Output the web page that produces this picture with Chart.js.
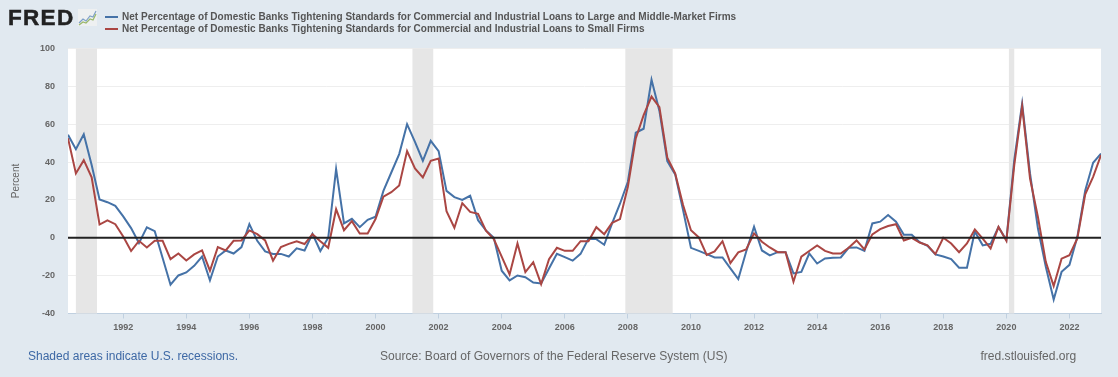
<!DOCTYPE html>
<html>
<head>
<meta charset="utf-8">
<title>FRED - Net Percentage of Domestic Banks Tightening Standards</title>
<script src="https://cdn.jsdelivr.net/npm/chart.js@4"></script>
<style>
    html, body { margin: 0; padding: 0; background: #e1e9f0; }
    body { position: relative; width: 1118px; height: 377px; overflow: hidden; font-family: "Liberation Sans", Arial, sans-serif; }
    #chart { position: absolute; left: 0; top: 0; }
    .abs { position: absolute; white-space: nowrap; }
    #logo { left: 8px; top: 3px; font-size: 22.5px; line-height: 30px; font-weight: bold; color: #222; letter-spacing: 1.3px; -webkit-text-stroke: 0.5px #222; }
    #icon { left: 78px; top: 9px; }
    .legend-line { left: 105px; width: 13px; height: 2px; }
    .legend-text { left: 122px; font-size: 10px; line-height: 13px; font-weight: bold; color: #555; letter-spacing: 0.03px; }
    .foot { top: 349px; font-size: 12.05px; line-height: 15px; color: #666; }
</style>
</head>
<body>
<canvas id="chart" width="1118" height="377"></canvas>
<div class="abs" id="logo">FRED</div>
<svg class="abs" id="icon" width="19" height="17" viewBox="0 0 19 17">
    <rect width="19" height="17" fill="#eef0f1"/>
    <polyline points="1,14 5,10 8,12 12,7 15,8 18,2" fill="none" stroke="#7fa0c8" stroke-width="1.2"/>
    <polyline points="1,16 5,13 8,14 12,10 15,11 18,5" fill="none" stroke="#9ab86a" stroke-width="1.2"/>
</svg>
<div class="abs legend-line" style="top:16px;background:#4572a7"></div>
<div class="abs legend-text" id="legend0" style="top:10px"></div>
<div class="abs legend-line" style="top:28px;background:#aa4643"></div>
<div class="abs legend-text" id="legend1" style="top:22px"></div>
<div class="abs foot" style="left:28px;color:#3d68a5;font-size:12px">Shaded areas indicate U.S. recessions.</div>
<div class="abs foot" style="left:380px">Source: Board of Governors of the Federal Reserve System (US)</div>
<div class="abs foot" style="left:980.5px">fred.stlouisfed.org</div>

<script>
const seriesNames = [
    'Net Percentage of Domestic Banks Tightening Standards for Commercial and Industrial Loans to Large and Middle-Market Firms',
    'Net Percentage of Domestic Banks Tightening Standards for Commercial and Industrial Loans to Small Firms'
];

// quarterly, 1990 Q2 to 2023 Q1
const largeFirms = [
    54.4, 46.8, 54.7, 38.5, 20.2, 18.8, 16.9, 11.3, 5.1, -2.8, 5.5, 3.5,
    -10.7, -24.8, -19.9, -18.3, -14.8, -9.9, -22.5, -9.9, -6.7, -8.3, -4.9, 7.2,
    -1.6, -7.2, -8.5, -8.5, -9.9, -5.6, -6.7, 2.1, -7, 0, 36.3, 7.6,
    10, 5.6, 9.5, 11.1, 24.8, 34.5, 44.2, 60, 50.7, 40.7, 51.2, 45.8,
    24.8, 21.5, 20, 22.2, 9.3, 3.9, 0, -17.4, -22.5, -19.9, -20.8, -23.6,
    -24.1, -16.2, -8.5, -10.2, -12.1, -8.5, -0.5, -0.7, -3.7, 7.6, 18, 29.6,
    55.5, 57.6, 83.5, 67, 40.5, 33.5, 14.6, -5.3, -6.9, -8.6, -10.4, -10.4,
    -16.2, -21.8, -7.4, 5.8, -6.7, -9.3, -7.6, -7.6, -18.8, -18, -8.3, -13.6,
    -10.9, -10.6, -10.4, -5.3, -5.1, -6.9, 7.6, 8.5, 12, 8.5, 1.6, 1.6,
    -2.3, -4.2, -8.8, -9.9, -11.3, -15.8, -15.8, 3.3, -4, -3.2, 5.6, -1.2,
    41, 71, 34, 5, -15.3, -32.6, -18, -14.3, 0.5, 25, 39.6, 44.5
];
const smallFirms = [
    52.6, 34, 41, 31.9, 7, 9.2, 7.2, 0.7, -7, -1.6, -5.1, -1.6,
    -1.6, -11.3, -8.3, -12, -8.8, -6.7, -17.4, -4.9, -6.7, -1.6, -1.4, 3.9,
    1.9, -1.4, -12.1, -4.9, -3.2, -1.8, -3.3, 1.9, -1.8, -5.3, 15.1, 4,
    8.8, 2.3, 2.3, 9.9, 21.7, 24.1, 27.6, 45.8, 36.6, 31.9, 40.7, 41.9,
    14.1, 5.3, 18.3, 13.7, 12.7, 3.7, -0.7, -10, -19.4, -3, -18.1, -12.9,
    -24.5, -11.3, -5.3, -6.9, -6.9, -1.8, -1.8, 5.6, 1.9, 7.9, 9.9, 27,
    52.5, 64.8, 74.6, 69, 42.3, 34, 17.3, 4, 0.2, -9, -7.2, -1.8,
    -13.4, -7.7, -6.2, 2.3, -2.1, -5.1, -7.6, -7.6, -23.2, -10, -7, -4,
    -6.9, -8.3, -8.3, -5.3, -1.4, -6.2, 1.8, 4.6, 6.2, 7.2, -1.4, 0,
    -2.5, -4, -8.6, 0, -3, -7.6, -3, 4.4, -0.4, -5.6, 5.8, -1.6,
    38.4, 69.5, 31.3, 11, -12.7, -25.5, -11, -9.2, -0.4, 23, 32.2, 43.7
];
const firstQuarter = 1990.25;
const lastQuarter = 2023;
const tickYears = [1992, 1994, 1996, 1998, 2000, 2002, 2004, 2006, 2008, 2010, 2012, 2014, 2016, 2018, 2020, 2022];
const percentTicks = [-40, -20, 0, 20, 40, 60, 80, 100];
const recessionStarts = [1990.5, 2001.17, 2007.92, 2020.08];
const recessionEnds = [1991.17, 2001.83, 2009.42, 2020.25];

function toPoints(values) {
    return values.map((v, i) => ({ x: firstQuarter + i * 0.25, y: v }));
}

document.getElementById('legend0').textContent = seriesNames[0];
document.getElementById('legend1').textContent = seriesNames[1];

// white plot background and the grey recession bands
const plotDecor = {
    id: 'plotDecor',
    beforeDraw(chart) {
        const { ctx, chartArea: a } = chart;
        ctx.save();
        ctx.fillStyle = '#ffffff';
        ctx.fillRect(a.left, a.top, a.right - a.left, a.bottom - a.top);
        ctx.restore();
    },
    beforeDatasetsDraw(chart) {
        const { ctx, chartArea: a, scales } = chart;
        ctx.save();
        ctx.fillStyle = '#e6e6e6';
        recessionStarts.forEach((start, i) => {
            const x0 = scales.x.getPixelForValue(start);
            const x1 = scales.x.getPixelForValue(recessionEnds[i]);
            ctx.fillRect(x0, a.top, x1 - x0, a.bottom - a.top);
        });
        ctx.restore();
    },
    afterDatasetsDraw(chart) {
        const { ctx, chartArea: a, scales } = chart;
        const y = scales.y.getPixelForValue(0);
        ctx.save();
        ctx.strokeStyle = '#222222';
        ctx.lineWidth = 2;
        ctx.beginPath();
        ctx.moveTo(a.left, y);
        ctx.lineTo(a.right, y);
        ctx.stroke();
        ctx.restore();
    }
};

new Chart(document.getElementById('chart').getContext('2d'), {
    type: 'line',
    data: {
        datasets: [
            { label: seriesNames[0], data: toPoints(largeFirms), borderColor: '#4572a7', borderWidth: 2, order: 2 },
            { label: seriesNames[1], data: toPoints(smallFirms), borderColor: '#aa4643', borderWidth: 2, order: 1 }
        ]
    },
    options: {
        responsive: false,
        animation: false,
        parsing: false,
        normalized: true,
        layout: { padding: { left: 10, right: 17, top: 48.5, bottom: 32.5 } },
        elements: { point: { radius: 0 }, line: { tension: 0 } },
        plugins: { legend: { display: false }, tooltip: { enabled: false } },
        scales: {
            x: {
                type: 'linear',
                min: firstQuarter,
                max: lastQuarter,
                afterBuildTicks: scale => { scale.ticks = tickYears.map(v => ({ value: v })); },
                afterFit: scale => { scale.height = 31; },
                grid: { drawOnChartArea: false, color: '#c0d0e0', tickLength: 5 },
                border: { color: '#c0d0e0' },
                ticks: {
                    autoSkip: false,
                    maxRotation: 0,
                    padding: 4,
                    color: '#666666',
                    font: { family: '"Liberation Sans", Arial, sans-serif', size: 9, weight: 'bold' },
                    callback: v => String(v)
                }
            },
            y: {
                min: -40,
                max: 100,
                afterBuildTicks: scale => { scale.ticks = percentTicks.map(v => ({ value: v })); },
                afterFit: scale => { scale.width = 58; },
                grid: { color: '#eeeeee', drawTicks: false },
                border: { display: false },
                title: {
                    display: true,
                    text: 'Percent',
                    color: '#666666',
                    padding: 0,
                    font: { family: '"Liberation Sans", Arial, sans-serif', size: 10 }
                },
                ticks: {
                    padding: 13,
                    color: '#666666',
                    font: { family: '"Liberation Sans", Arial, sans-serif', size: 9, weight: 'bold' }
                }
            }
        }
    },
    plugins: [plotDecor]
});
</script>
</body>
</html>
